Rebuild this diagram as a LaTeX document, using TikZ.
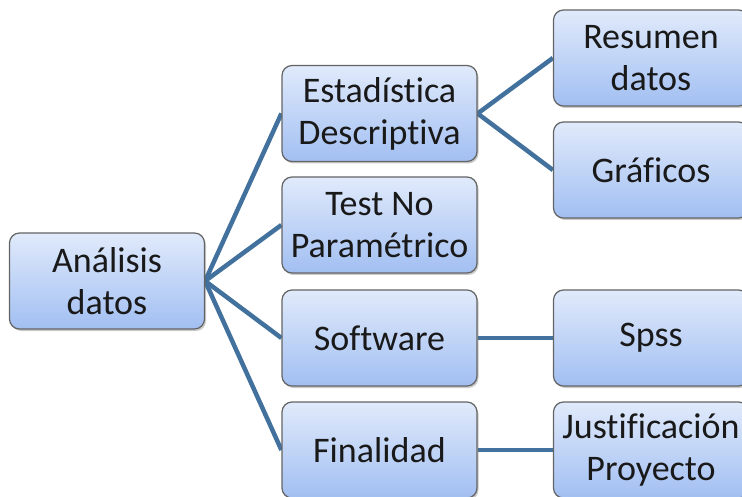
\documentclass[tikz,border=0pt]{standalone}
\usepackage{fontspec}
\setmainfont[Ligatures={NoCommon}]{Carlito}
\usetikzlibrary{shadows,backgrounds}
\definecolor{boxtop}{HTML}{E0EAFB}
\definecolor{boxbot}{HTML}{A2BFF2}
\definecolor{boxline}{HTML}{646464}
\definecolor{linkblue}{HTML}{41719C}
\begin{document}
\begin{tikzpicture}[x=1pt,y=-1pt,
  topic/.style={draw=boxline, line width=1.2pt, rounded corners=10pt,
    top color=boxtop, bottom color=boxbot,
    drop shadow={shadow xshift=1.5pt, shadow yshift=-2pt, opacity=0.35, fill=black!60},
    minimum width=195pt, minimum height=96pt, align=center, inner sep=0pt,
    font=\fontsize{36}{42}\selectfont, text=black!90},
  link/.style={draw=linkblue, line width=4.5pt}]
\useasboundingbox (0,0) rectangle (742,497);
% root
\node[topic] (root) at (107,281) {Análisis\\datos};
% second level
\node[topic] (est) at (379.5,113.5) {Estadística\\Descriptiva};
\node[topic] (test) at (379.5,225) {Test No\\Paramétrico};
\node[topic] (soft) at (379.5,338) {Software};
\node[topic] (fin) at (379.5,450) {Finalidad};
% third level
\node[topic] (res) at (651,58) {Resumen\\datos};
\node[topic] (graf) at (651,170) {Gráficos};
\node[topic] (spss) at (651,338) {Spss};
\node[topic] (just) at (651,450) {Justificación\\Proyecto};
% connectors, kept behind the boxes
\begin{scope}[on background layer]
\foreach \t in {est,test,soft,fin}
  \draw[link] (root.east) -- (\t.west);
\draw[link] (est.east) -- (res.west);
\draw[link] (est.east) -- (graf.west);
\draw[link] (soft.east) -- (spss.west);
\draw[link] (fin.east) -- (just.west);
\end{scope}
\end{tikzpicture}
\end{document}
